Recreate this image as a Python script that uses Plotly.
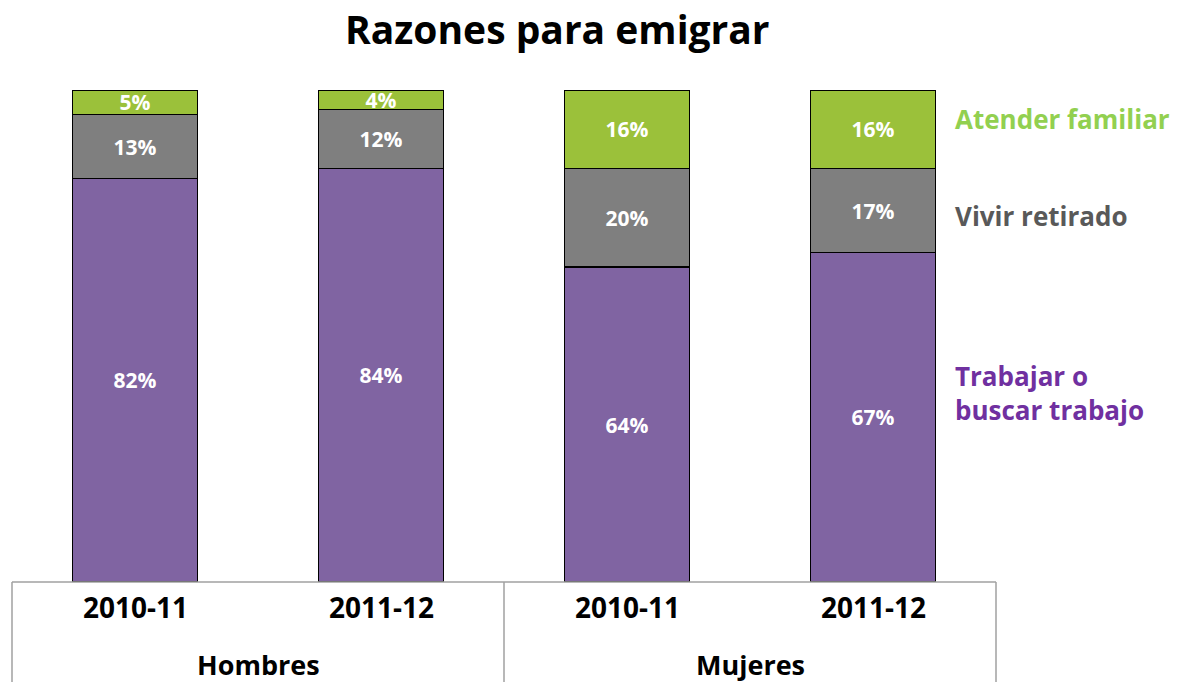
import plotly.graph_objects as go

categories = ["H-2010-11", "H-2011-12", "M-2010-11", "M-2011-12"]
period_labels = ["2010-11", "2011-12", "2010-11", "2011-12"]
group_labels = ["Hombres", "Mujeres"]
trabajar = [82, 84, 64, 67]
retirado = [13, 12, 20, 17]
familiar = [5, 4, 16, 16]
series_names = ["Trabajar o<br>buscar trabajo", "Vivir retirado", "Atender familiar"]
title = "Razones para emigrar"

FONT = "Open Sans"
bar_colors = ["#8064A2", "#7F7F7F", "#9BC13A"]
legend_colors = ["#7030A0", "#595959", "#92D050"]

fig = go.Figure()
for vals, col in zip([trabajar, retirado, familiar], bar_colors):
    fig.add_trace(go.Bar(
        x=categories, y=vals,
        marker=dict(color=col, line=dict(color="black", width=1.5)),
        text=[f"<b>{v}%</b>" for v in vals],
        textposition="inside", insidetextanchor="middle",
        textfont=dict(family=FONT, size=21, color="white"),
        showlegend=False, hoverinfo="skip",
    ))

# page pixels -> paper coords (plot area spans page y 90..582, x 12..996)
def py(p):
    return (582 - p) / 492

def px(p):
    return (p - 12) / 984

annotations = []
for c, lab in zip(categories, period_labels):
    annotations.append(dict(x=c, xref="x", y=py(607), yref="paper", text=f"<b>{lab}</b>",
                            yanchor="middle", xanchor="center",
                            showarrow=False, font=dict(family=FONT, size=28, color="black")))
for xp, lab in zip([0.25, 0.75], group_labels):
    annotations.append(dict(x=xp, xref="paper", y=py(677), yref="paper", text=f"<b>{lab}</b>",
                            yanchor="bottom", xanchor="center", yshift=-8,
                            showarrow=False, font=dict(family=FONT, size=27, color="black")))
for name, col, yp in zip(series_names, legend_colors, [py(393), py(216), py(119)]):
    annotations.append(dict(x=px(953), xref="paper", y=yp, yref="paper",
                            text=f"<b>{name}</b>", showarrow=False, xanchor="left",
                            yanchor="middle", align="left",
                            font=dict(family=FONT, size=26, color=col)))
annotations.append(dict(x=px(557), xref="paper", y=py(28), yref="paper",
                        text=f"<b>{title}</b>", showarrow=False,
                        xanchor="center", yanchor="middle",
                        font=dict(family=FONT, size=39, color="black")))

line_col = "#A0A0A0"
shapes = [
    dict(type="line", xref="paper", yref="paper", x0=0, x1=1, y0=0, y1=0,
         line=dict(color=line_col, width=1.5)),
]
for xp in [0, 0.5, 1]:
    shapes.append(dict(type="line", xref="paper", yref="paper", x0=xp, x1=xp, y0=0, y1=py(690),
                       line=dict(color=line_col, width=1.5)))

# page is offset by 8px body margin, so figure is 8px smaller and margins shifted
fig.update_layout(
    barmode="stack",
    bargap=0.49,
    width=1170, height=674,
    margin=dict(l=4, r=182, t=82, b=100),
    plot_bgcolor="white", paper_bgcolor="white",
    xaxis=dict(showticklabels=False, showgrid=False, zeroline=False, showline=False,
               categoryorder="array", categoryarray=categories),
    yaxis=dict(range=[0, 100], visible=False, showgrid=False),
    annotations=annotations,
    shapes=shapes,
    uniformtext=dict(minsize=17, mode="show"),
    font=dict(family=FONT),
)

fig.write_html("out.html")
